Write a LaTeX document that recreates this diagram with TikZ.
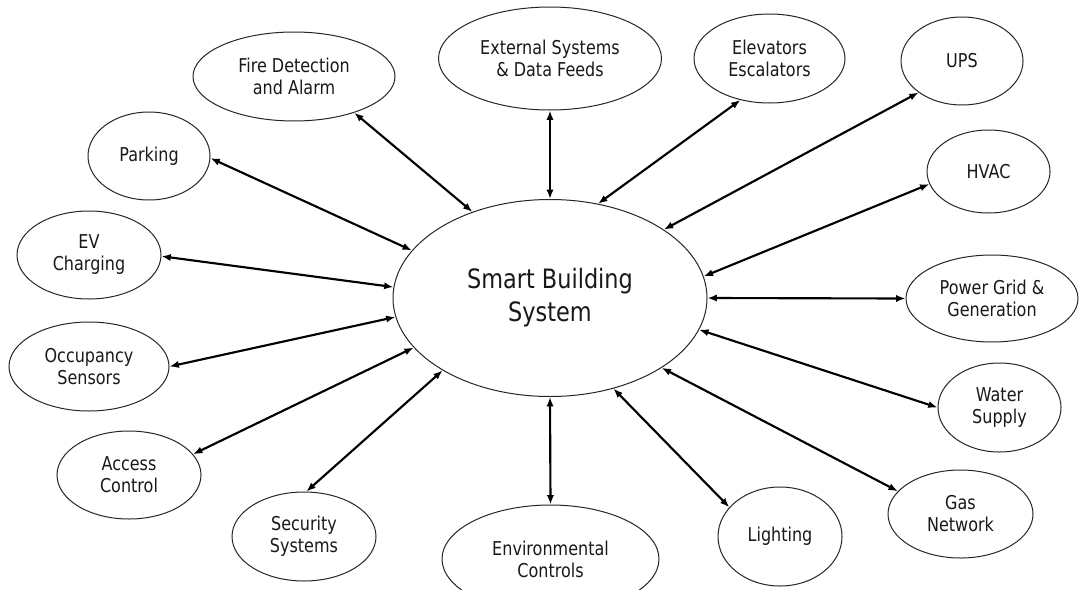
\documentclass[tikz,border=0pt]{standalone}
\usepackage{fontspec}
\setmainfont{DejaVu Sans}[FakeStretch=0.84]
\usetikzlibrary{shapes.geometric,arrows.meta}
\tikzset{
  bubble/.style={ellipse, draw=black!85, line width=0.75pt, inner sep=0pt, align=center,
    text=black!90, font=\fontsize{14.3pt}{16.5pt}\selectfont},
  link/.style={line width=1.6pt, black, {Latex[length=7pt,width=5.4pt]}-{Latex[length=7pt,width=5.4pt]}}
}
\begin{document}
\begin{tikzpicture}[x=0.75pt,y=-0.75pt]
\useasboundingbox (0,0) rectangle (1080,589);
\fill[white] (0,0) rectangle (1080,589);
% central node
\node[bubble, minimum width=235.5pt, minimum height=147.75pt, font=\fontsize{20pt}{24.75pt}\selectfont] (main) at (550,298) {Smart Building\\System};
% satellites
\node[bubble, minimum width=151.5pt, minimum height=66.75pt] (fire) at (294,76.5) {Fire Detection\\and Alarm};
\node[bubble, minimum width=91.5pt, minimum height=66pt] (park) at (149,156) {Parking};
\node[bubble, minimum width=108pt, minimum height=66pt] (ev) at (89,255) {EV\\Charging};
\node[bubble, minimum width=167.25pt, minimum height=77.25pt] (ext) at (550,58.5) {External Systems\\\& Data Feeds};
\node[bubble, minimum width=113.25pt, minimum height=66.75pt] (elev) at (769.5,58.5) {Elevators\\Escalators};
\node[bubble, minimum width=91.5pt, minimum height=66pt] (ups) at (962,61) {UPS};
\node[bubble, minimum width=92.25pt, minimum height=62.25pt] (hvac) at (988.5,171.5) {HVAC};
\node[bubble, minimum width=129pt, minimum height=65.25pt] (power) at (992,298.5) {Power Grid \&\\Generation};
\node[bubble, minimum width=92.25pt, minimum height=66.75pt] (water) at (999.5,407.5) {Water\\Supply};
\node[bubble, minimum width=108.75pt, minimum height=66pt] (gas) at (960.5,514) {Gas\\Network};
\node[bubble, minimum width=93pt, minimum height=74.25pt] (light) at (780,536.5) {Lighting};
\node[bubble, minimum width=162.75pt, minimum height=81pt] (env) at (550.5,559) {Environmental\\Controls};
\node[bubble, minimum width=120pt, minimum height=66.75pt] (occ) at (89,366.5) {Occupancy\\Sensors};
\node[bubble, minimum width=108pt, minimum height=66pt] (acc) at (129,475) {Access\\Control};
\node[bubble, minimum width=108pt, minimum height=66.75pt] (sec) at (304,536.5) {Security\\Systems};
% connectors
\draw[link] (fire.-31.7) -- (main.132.9);
\draw[link] (park.-2) -- (main.161.4);
\draw[link] (ev.-1) -- (main.176);
\draw[link] (ext.south) -- (main.north);
\draw[link] (elev.-125) -- (main.63.7);
\draw[link] (ups.-144.8) -- (main.31.6);
\draw[link] (hvac.-168.9) -- (main.8.5);
\draw[link] (power.west) -- (main.east);
\draw[link] (water.180) -- (main.-12.4);
\draw[link] (gas.160.9) -- (main.-32.4);
\draw[link] (light.150.8) -- (main.-55.7);
\draw[link] (env.north) -- (main.south);
\draw[link] (occ.0) -- (main.-173.1);
\draw[link] (acc.18.2) -- (main.-160.1);
\draw[link] (sec.87.4) -- (main.-146.8);
\end{tikzpicture}
\end{document}
